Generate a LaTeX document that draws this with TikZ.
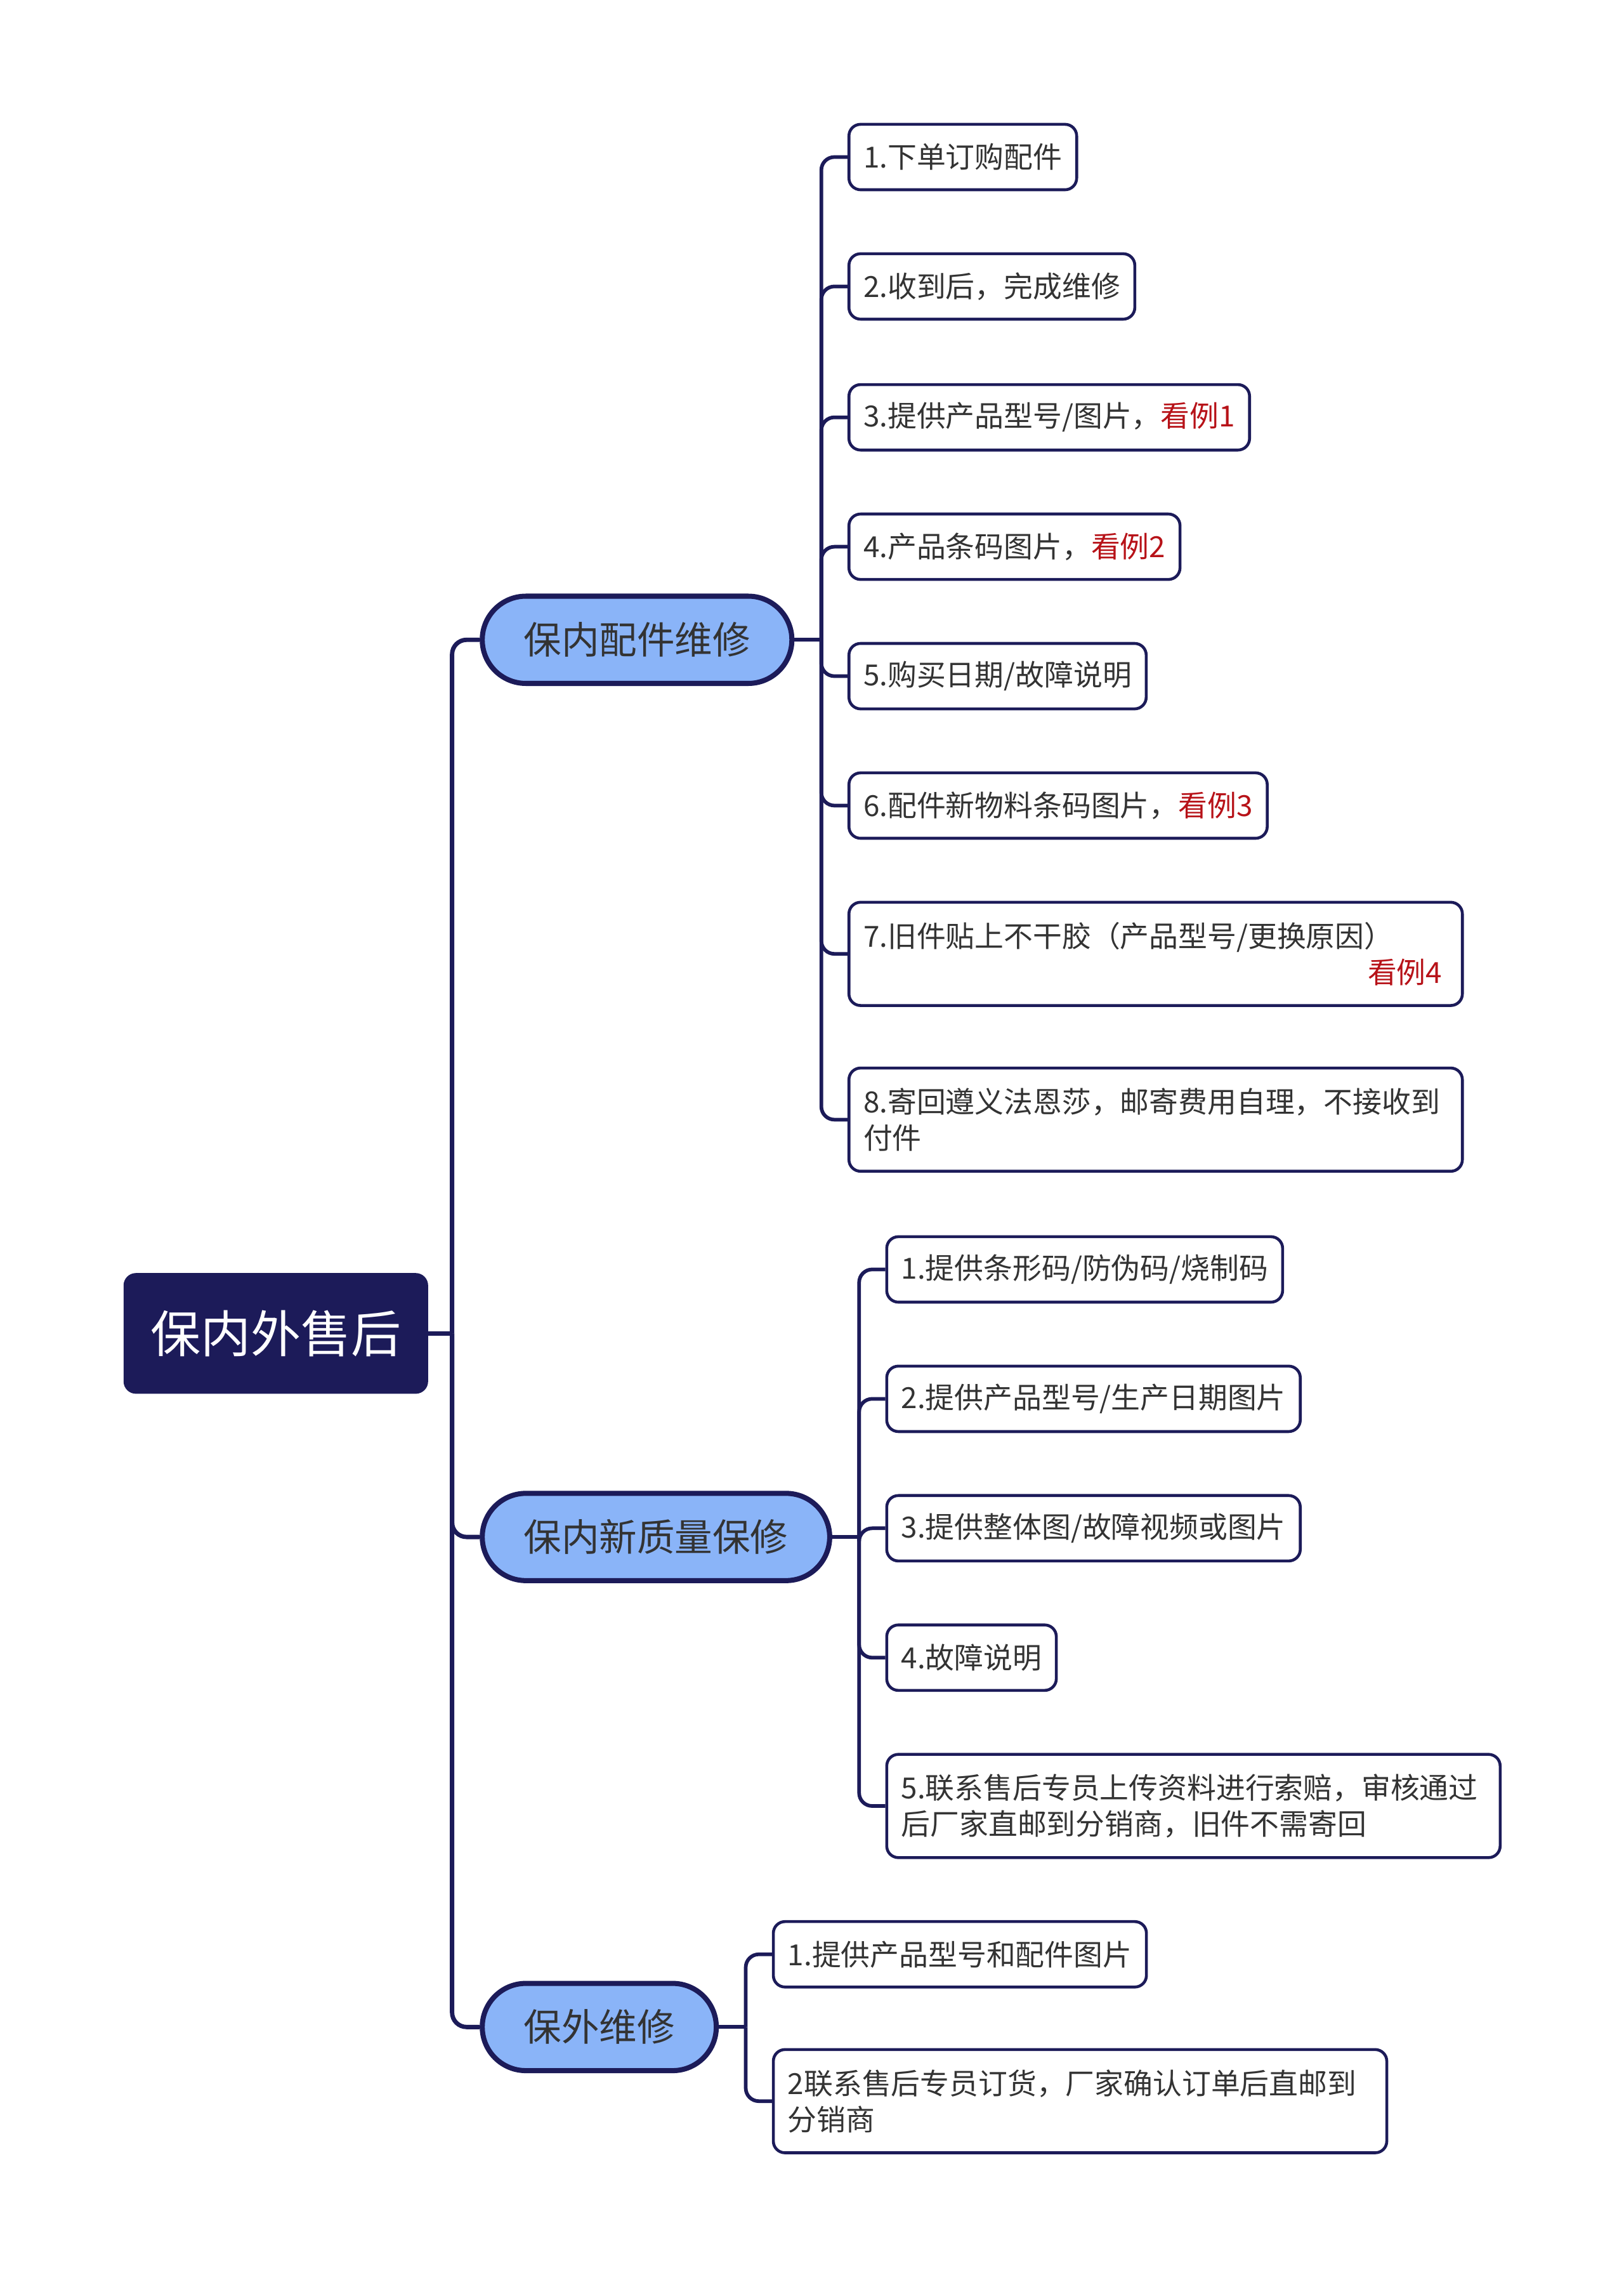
\documentclass[tikz,border=0pt]{standalone}
\usepackage{fontspec}
\setmainfont{Noto Sans CJK SC}
\usepackage{xcolor}
\usepackage{tikz}
\definecolor{navycolor}{RGB}{28, 27, 89}
\definecolor{branchcolor}{RGB}{138, 180, 248}
\definecolor{labelcolor}{RGB}{51, 51, 51}
\definecolor{examplecolor}{RGB}{183, 18, 24}
\usetikzlibrary{positioning, calc}

\begin{document}
\begin{tikzpicture}[
    x=1pt, y=-1pt,
    rootbox/.style={rectangle, draw=navycolor, fill=navycolor, rounded corners=8pt, line width=1pt, inner xsep=18pt, minimum height=82pt, anchor=west, text=white, font=\fontsize{34.5}{40}\selectfont},
    branchbox/.style={rectangle, draw=navycolor, fill=branchcolor, rounded corners=30pt, line width=3.5pt, inner xsep=28.5pt, minimum height=60pt, anchor=west, text=labelcolor, font=\fontsize{26}{30}\selectfont},
    leafbox/.style={rectangle, draw=navycolor, fill=white, rounded corners=8pt, line width=2pt, inner xsep=10pt, inner ysep=0pt, minimum height=45pt, anchor=west, text=labelcolor, font=\fontsize{20}{25}\selectfont},
    widebox/.style={leafbox, text width=402pt, align=left, minimum height=71pt},
    trunk/.style={navycolor, line width=3pt, rounded corners=10pt},
    twig/.style={navycolor, line width=2.5pt, rounded corners=9pt}
]
    \fill[white] (0, 0) rectangle (1117, 1568);

    % Root
    \node[rootbox] (root) at (85, 917) {保内外售后};
    \coordinate (rootjoint) at (311, 917);

    % Branches
    \node[branchbox] (inparts) at (330, 440) {保内配件维修};
    \node[branchbox] (inquality) at (330, 1057) {保内新质量保修};
    \node[branchbox] (outrepair) at (330, 1394) {保外维修};

    \draw[trunk] (root.east) -- (rootjoint);
    \draw[trunk] (rootjoint) |- (inparts.west);
    \draw[trunk] (rootjoint) |- (inquality.west);
    \draw[trunk] (rootjoint) |- (outrepair.west);

    % In-warranty parts repair
    \node[leafbox] (p1) at (583, 108) {1.下单订购配件};
    \node[leafbox] (p2) at (583, 197) {2.收到后，完成维修};
    \node[leafbox] (p3) at (583, 287) {3.提供产品型号/图片，\textcolor{examplecolor}{看例1}};
    \node[leafbox] (p4) at (583, 376) {4.产品条码图片，\textcolor{examplecolor}{看例2}};
    \node[leafbox] (p5) at (583, 465) {5.购买日期/故障说明};
    \node[leafbox] (p6) at (583, 554) {6.配件新物料条码图片，\textcolor{examplecolor}{看例3}};
    \node[widebox] (p7) at (583, 656) {7.旧件贴上不干胶（产品型号/更换原因）\\\hspace*{0pt plus 1filll}\textcolor{examplecolor}{看例4}\hspace*{4pt}};
    \node[widebox] (p8) at (583, 770) {8.寄回遵义法恩莎，邮寄费用自理，不接收到\\付件};
    \coordinate (partsjoint) at (565, 440);

    \draw[twig] (inparts.east) -- (partsjoint);
    \draw[twig] (partsjoint) |- (p1.west);
    \draw[twig] (partsjoint) |- (p2.west);
    \draw[twig] (partsjoint) |- (p3.west);
    \draw[twig] (partsjoint) |- (p4.west);
    \draw[twig] (partsjoint) |- (p5.west);
    \draw[twig] (partsjoint) |- (p6.west);
    \draw[twig] (partsjoint) |- (p7.west);
    \draw[twig] (partsjoint) |- (p8.west);

    % In-warranty quality repair
    \node[leafbox] (q1) at (609, 873) {1.提供条形码/防伪码/烧制码};
    \node[leafbox] (q2) at (609, 962) {2.提供产品型号/生产日期图片};
    \node[leafbox] (q3) at (609, 1051) {3.提供整体图/故障视频或图片};
    \node[leafbox] (q4) at (609, 1140) {4.故障说明};
    \node[widebox] (q5) at (609, 1242) {5.联系售后专员上传资料进行索赔，审核通过\\后厂家直邮到分销商，旧件不需寄回};
    \coordinate (qualityjoint) at (591, 1057);

    \draw[twig] (inquality.east) -- (qualityjoint);
    \draw[twig] (qualityjoint) |- (q1.west);
    \draw[twig] (qualityjoint) |- (q2.west);
    \draw[twig] (qualityjoint) |- (q3.west);
    \draw[twig] (qualityjoint) |- (q4.west);
    \draw[twig] (qualityjoint) |- (q5.west);

    % Out-of-warranty repair
    \node[leafbox] (o1) at (531, 1344) {1.提供产品型号和配件图片};
    \node[widebox] (o2) at (531, 1445) {2联系售后专员订货，厂家确认订单后直邮到\\分销商};
    \coordinate (outjoint) at (513, 1394);

    \draw[twig] (outrepair.east) -- (outjoint);
    \draw[twig] (outjoint) |- (o1.west);
    \draw[twig] (outjoint) |- (o2.west);
\end{tikzpicture}
\end{document}
